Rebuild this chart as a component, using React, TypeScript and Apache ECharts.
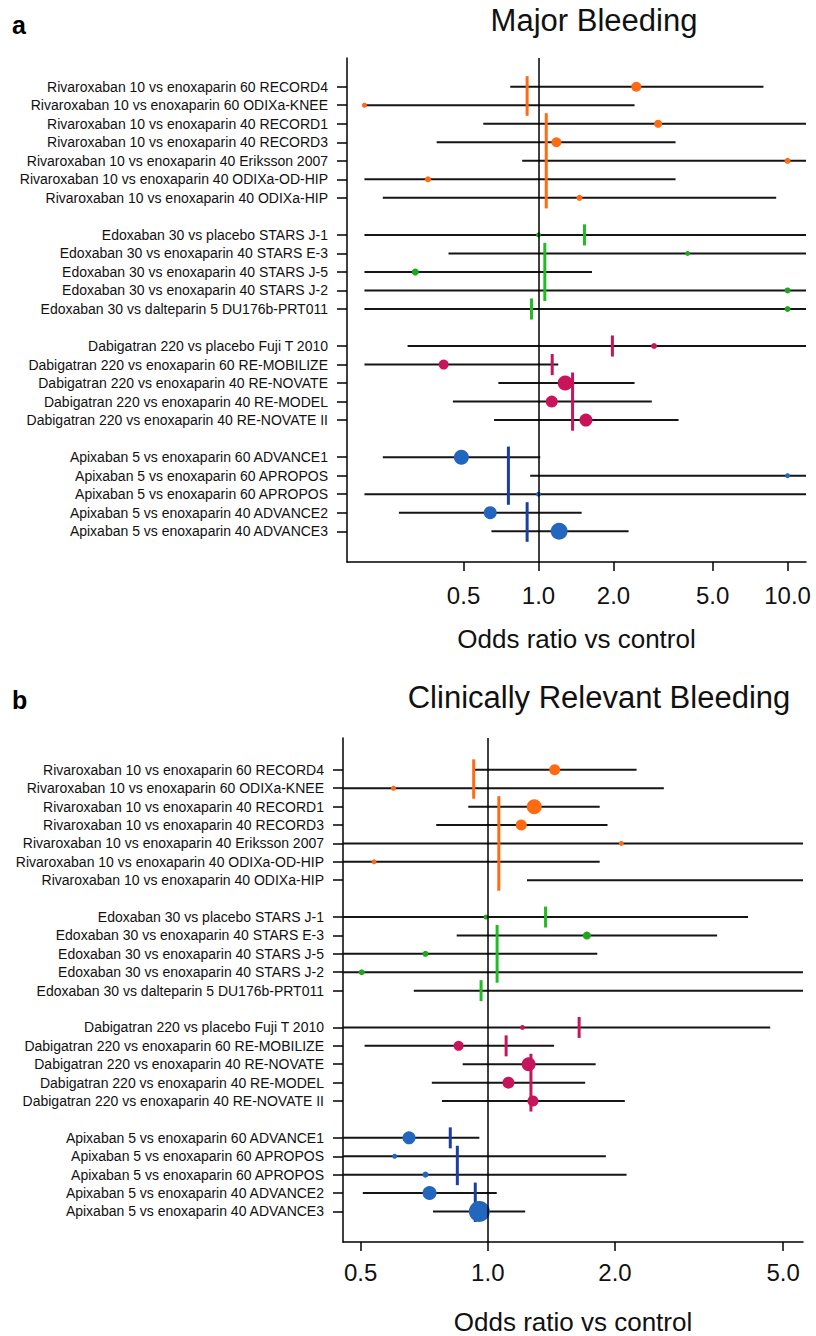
import React, { useEffect, useRef } from 'react';
import * as echarts from 'echarts';

// ---------- data ----------
const studyLabels = [
  'Rivaroxaban 10 vs enoxaparin 60 RECORD4',
  'Rivaroxaban 10 vs enoxaparin 60 ODIXa-KNEE',
  'Rivaroxaban 10 vs enoxaparin 40 RECORD1',
  'Rivaroxaban 10 vs enoxaparin 40 RECORD3',
  'Rivaroxaban 10 vs enoxaparin 40 Eriksson 2007',
  'Rivaroxaban 10 vs enoxaparin 40 ODIXa-OD-HIP',
  'Rivaroxaban 10 vs enoxaparin 40 ODIXa-HIP',
  'Edoxaban 30 vs placebo STARS J-1',
  'Edoxaban 30 vs enoxaparin 40 STARS E-3',
  'Edoxaban 30 vs enoxaparin 40 STARS J-5',
  'Edoxaban 30 vs enoxaparin 40 STARS J-2',
  'Edoxaban 30 vs dalteparin 5 DU176b-PRT011',
  'Dabigatran 220 vs placebo Fuji T 2010',
  'Dabigatran 220 vs enoxaparin 60 RE-MOBILIZE',
  'Dabigatran 220 vs enoxaparin 40 RE-NOVATE',
  'Dabigatran 220 vs enoxaparin 40 RE-MODEL',
  'Dabigatran 220 vs enoxaparin 40 RE-NOVATE II',
  'Apixaban 5 vs enoxaparin 60 ADVANCE1',
  'Apixaban 5 vs enoxaparin 60 APROPOS',
  'Apixaban 5 vs enoxaparin 60 APROPOS',
  'Apixaban 5 vs enoxaparin 40 ADVANCE2',
  'Apixaban 5 vs enoxaparin 40 ADVANCE3',
];
// drug group of each study: 0 Rivaroxaban, 1 Edoxaban, 2 Dabigatran, 3 Apixaban
const studyDrug = [0, 0, 0, 0, 0, 0, 0, 1, 1, 1, 1, 1, 2, 2, 2, 2, 2, 3, 3, 3, 3, 3];

// Panel a: Major bleeding (odds ratios, lower / upper CI; null = no estimate shown)
const majorOR = [2.47, 0.2, 3.02, 1.18, 10, 0.36, 1.46, 1.0, 3.97, 0.32, 10, 10, 2.91, 0.416, 1.28, 1.13, 1.55, 0.49, 10, 1.0, 0.64, 1.21];
const majorLower = [0.77, 0.2, 0.6, 0.39, 0.86, 0.2, 0.237, 0.2, 0.435, 0.2, 0.2, 0.2, 0.298, 0.2, 0.69, 0.453, 0.663, 0.237, 0.926, 0.2, 0.275, 0.647];
const majorUpper = [8.0, 2.43, 20, 3.55, 20, 3.55, 9.0, 20, 20, 1.64, 20, 20, 20, 1.2, 2.43, 2.85, 3.65, 1.016, 20, 20, 1.49, 2.3];
const majorWeight = [10, 5, 8, 10, 6, 6, 6, 5, 5, 7, 6, 6, 6, 10, 15, 12, 13, 15, 5, 5, 13, 17];
const majorPooled = [0.9, 1.074, 1.53, 1.06, 0.937, 1.98, 1.135, 1.37, 0.757, 0.9];
const majorPooledFirst = [0, 2, 7, 8, 11, 12, 13, 14, 17, 20];
const majorPooledLast = [1, 6, 7, 10, 11, 12, 13, 16, 19, 21];
const majorTicks = [0.5, 1.0, 2.0, 5.0, 10.0];

// Panel b: Clinically relevant bleeding
const clinOR = [1.44, 0.598, 1.288, 1.2, 2.07, 0.538, null, 0.99, 1.716, 0.712, 0.503, null, 1.208, 0.853, 1.249, 1.119, 1.279, 0.651, 0.602, 0.712, 0.728, 0.955];
const clinLower = [0.929, 0.4, 0.899, 0.755, 0.4, 0.4, 1.238, 0.4, 0.844, 0.4, 0.4, 0.668, 0.4, 0.511, 0.872, 0.737, 0.779, 0.4, 0.4, 0.4, 0.506, 0.742];
const clinUpper = [2.25, 2.61, 1.84, 1.92, 8, 1.84, 8, 4.13, 3.49, 1.816, 8, 8, 4.66, 1.435, 1.8, 1.7, 2.11, 0.955, 1.903, 2.13, 1.05, 1.226];
const clinWeight = [11, 5, 15, 11, 5, 5, 0, 5, 8, 6, 6, 0, 5, 10, 14, 12, 11, 13, 5, 6, 14, 21];
const clinPooled = [0.926, 1.062, 1.37, 1.052, 0.964, 1.645, 1.105, 1.265, 0.815, 0.847, 0.934];
const clinPooledFirst = [0, 2, 7, 8, 11, 12, 13, 14, 17, 18, 20];
const clinPooledLast = [1, 6, 7, 10, 11, 12, 13, 16, 17, 19, 21];
const clinTicks = [0.5, 1.0, 2.0, 5.0];

// ---------- styles ----------
const FONT = '"Liberation Sans", Arial, Helvetica, sans-serif';
const dotColors = ['#FF6A12', '#1FA51F', '#C8145A', '#2266BE'];
const pooledColors = ['#FF6A12', '#22BB22', '#C8145A', '#1A3DA6'];

// row slot: one blank row between drug groups
const slotOf = (i: number) => i + studyDrug[i];
const slotLabel: Record<string, string> = {};
studyLabels.forEach((l, i) => { slotLabel[String(slotOf(i))] = l; });
const rowSlots = studyLabels.map((_, i) => slotOf(i));

const lg = (v: number) => Math.log10(v);

function panel(
  idx: number,
  or: (number | null)[], lo: number[], hi: number[], w: number[],
  pooled: number[], pFirst: number[], pLast: number[], ticks: number[],
  xMin: number, xMax: number, yMin: number, yMax: number,
  labelMargin: number, nameGap: number,
) {
  const xAxis = {
    type: 'value', gridIndex: idx, min: xMin, max: xMax,
    name: 'Odds ratio vs control', nameLocation: 'middle', nameGap,
    nameTextStyle: { fontSize: 26, fontFamily: FONT, color: '#111' },
    axisLine: { onZero: false, lineStyle: { color: '#000', width: 1.5 } },
    axisTick: { show: true, length: 9, customValues: ticks.map(lg), lineStyle: { color: '#000', width: 1.5 } },
    axisLabel: {
      customValues: ticks.map(lg), margin: labelMargin, fontSize: 24, fontFamily: FONT, color: '#111',
      formatter: (v: number) => Math.pow(10, v).toFixed(1),
    },
    splitLine: { show: false },
  };
  const yAxis = {
    type: 'value', gridIndex: idx, inverse: true, min: yMin, max: yMax,
    axisLine: { onZero: false, lineStyle: { color: '#000', width: 1.5 } },
    axisTick: { show: true, length: 10, customValues: rowSlots, lineStyle: { color: '#000', width: 1.5 } },
    axisLabel: {
      customValues: rowSlots, margin: 19, fontSize: 14, fontFamily: FONT, color: '#111',
      formatter: (v: number) => slotLabel[String(Math.round(v))] || '',
    },
    splitLine: { show: false },
  };
  const ciData = studyLabels.map((_, i) => [lg(lo[i]), lg(hi[i]), slotOf(i)]);
  const dotData = studyLabels
    .map((_, i) => (or[i] == null || !w[i] ? null : [lg(or[i] as number), slotOf(i), w[i], studyDrug[i]]))
    .filter((d) => d !== null);
  const pooledData = pooled.map((p, k) => [lg(p), slotOf(pFirst[k]), slotOf(pLast[k]), studyDrug[pFirst[k]]]);

  const series = [
    {
      type: 'custom', xAxisIndex: idx, yAxisIndex: idx, data: ciData, z: 2,
      encode: { x: [0, 1], y: 2 },
      renderItem: (params: any, api: any) => {
        const y = api.value(2);
        const p1 = api.coord([api.value(0), y]);
        const p2 = api.coord([api.value(1), y]);
        const cs = params.coordSys;
        const x1 = Math.max(p1[0], cs.x);
        const x2 = Math.min(p2[0], cs.x + cs.width);
        return { type: 'line', shape: { x1, y1: p1[1], x2, y2: p2[1] }, style: { stroke: '#151515', lineWidth: 2 } };
      },
      markLine: {
        silent: true, symbol: 'none', label: { show: false },
        lineStyle: { color: '#000', width: 1.5, type: 'solid' },
        data: [{ xAxis: 0 }],
      },
    },
    {
      type: 'custom', xAxisIndex: idx, yAxisIndex: idx, data: pooledData, z: 3,
      encode: { x: 0, y: [1, 2] },
      renderItem: (params: any, api: any) => {
        const x = api.value(0);
        const a = api.coord([x, api.value(1) - 0.57]);
        const b = api.coord([x, api.value(2) + 0.57]);
        return { type: 'line', shape: { x1: a[0], y1: a[1], x2: b[0], y2: b[1] }, style: { stroke: pooledColors[api.value(3)], lineWidth: 3 } };
      },
    },
    {
      type: 'scatter', xAxisIndex: idx, yAxisIndex: idx, data: dotData, z: 4,
      symbol: 'circle',
      symbolSize: (v: number[]) => v[2],
      itemStyle: { color: (p: any) => dotColors[p.value[3]], opacity: 1 },
    },
  ];
  return { xAxis, yAxis, series };
}

export default function App() {
  const ref = useRef<HTMLDivElement>(null);
  useEffect(() => {
    document.body.style.margin = '0';
    if (!ref.current) return;
    const chart = echarts.init(ref.current, undefined, { renderer: 'svg' });
    const a = panel(0, majorOR, majorLower, majorUpper, majorWeight, majorPooled, majorPooledFirst, majorPooledLast, majorTicks,
      -0.769, 1.074, -1.55, 25.66, 21, 64);
    const b = panel(1, clinOR, clinLower, clinUpper, clinWeight, clinPooled, clinPooledFirst, clinPooledLast, clinTicks,
      -0.3427, 0.746, -1.73, 25.66, 18, 67);
    chart.setOption({
      animation: false,
      backgroundColor: '#fff',
      textStyle: { fontFamily: FONT },
      grid: [
        { left: 347, top: 58, width: 459, height: 504 },
        { left: 343, top: 738, width: 460, height: 506 },
      ],
      xAxis: [a.xAxis, b.xAxis],
      yAxis: [a.yAxis, b.yAxis],
      series: [...a.series, ...b.series],
      graphic: [
        { type: 'text', left: 12, top: 12, style: { text: 'a', font: `bold 25px ${FONT}`, fill: '#000' } },
        { type: 'text', left: 12, top: 687, style: { text: 'b', font: `bold 25px ${FONT}`, fill: '#000' } },
        { type: 'text', x: 594, y: 20, style: { text: 'Major Bleeding', font: `31px ${FONT}`, fill: '#111', textAlign: 'center', textVerticalAlign: 'middle' } },
        { type: 'text', x: 599, y: 697, style: { text: 'Clinically Relevant Bleeding', font: `31px ${FONT}`, fill: '#111', textAlign: 'center', textVerticalAlign: 'middle' } },
      ],
    });
    return () => chart.dispose();
  }, []);
  return <div ref={ref} style={{ width: 816, height: 1336 }} />;
}
